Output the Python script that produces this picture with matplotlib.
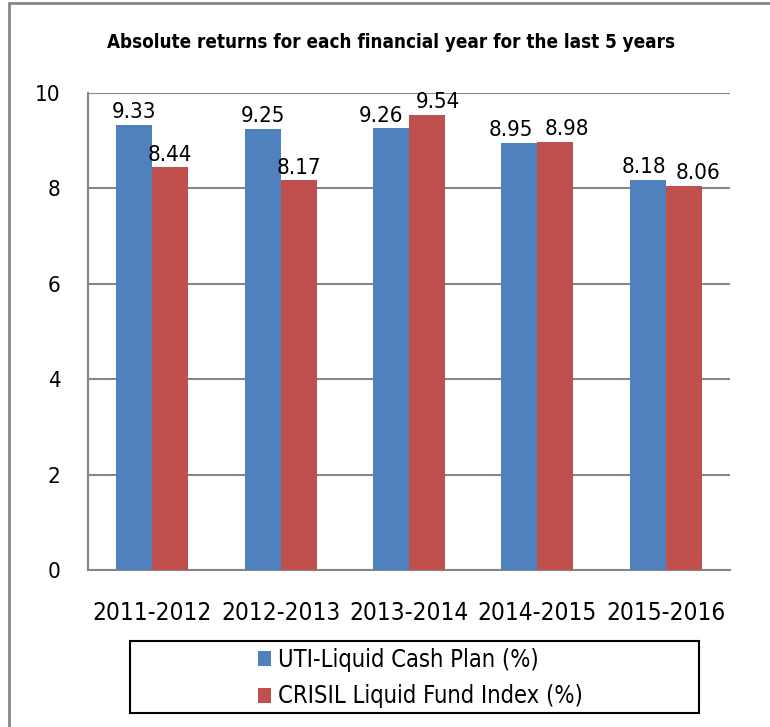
import matplotlib.pyplot as plt
import numpy as np
from matplotlib.patches import Rectangle

years = ['2011-2012', '2012-2013', '2013-2014', '2014-2015', '2015-2016']
uti = [9.33, 9.25, 9.26, 8.95, 8.18]
crisil = [8.44, 8.17, 9.54, 8.98, 8.06]
labels = ['UTI-Liquid Cash Plan (%)', 'CRISIL Liquid Fund Index (%)']

plt.rcParams['font.family'] = ['DejaVu Sans']
plt.rcParams['font.stretch'] = 'condensed'

W, H = 770, 727
fig = plt.figure(figsize=(W / 100, H / 100), dpi=100)
ax = fig.add_axes([88 / W, 1 - 570 / H, (730 - 88) / W, (570 - 93) / H])

x = np.arange(len(years))
bw = 0.28
b1 = ax.bar(x - bw / 2, uti, bw, color='#4F81BD', label=labels[0], zorder=3)
b2 = ax.bar(x + bw / 2, crisil, bw, color='#C0504D', label=labels[1], zorder=3)

# small sideways nudges (points) so neighbouring labels don't collide
nudge = [[0, 0, -7, -6, -3], [0, 0, 8, 8, 10]]
for k, (bars, vals) in enumerate(((b1, uti), (b2, crisil))):
    for i, (r, v) in enumerate(zip(bars, vals)):
        ax.annotate(f'{v:.2f}', (r.get_x() + r.get_width() / 2, v),
                    xytext=(nudge[k][i], 2), textcoords='offset points',
                    ha='center', va='bottom', fontsize=16, color='black')

ax.set_xlim(-0.5, len(years) - 0.5)
ax.set_ylim(0, 10)
ax.set_yticks(range(0, 11, 2))
ax.set_xticks(x)
ax.set_xticklabels(years, fontsize=17.5)
ax.tick_params(axis='y', length=0, pad=20, labelsize=16)
ax.tick_params(axis='x', length=0, pad=22)
ax.yaxis.grid(True, color='#868686', lw=1.5, zorder=0)
for s in ['top', 'right']:
    ax.spines[s].set_visible(False)
for s in ['left', 'bottom']:
    ax.spines[s].set_color('#868686')
    ax.spines[s].set_linewidth(1.5)

fig.text(391 / W, 1 - 42 / H, 'Absolute returns for each financial year for the last 5 years',
         ha='center', va='center', fontsize=13.5, fontweight='bold')

# legend with its own box
fig.legend(handles=[b1, b2], loc='center', bbox_to_anchor=(420 / W, 1 - 678 / H),
           frameon=False, fontsize=17, handlelength=0.55, handleheight=0.6,
           handletextpad=0.3, labelspacing=0.55)
fig.patches.append(Rectangle((130 / W, 1 - 713 / H), (699 - 130) / W, (713 - 641) / H,
                             transform=fig.transFigure, fill=False, ec='black', lw=1.5))

# outer chart border
fig.patches.append(Rectangle((9 / W, -0.05), 1.1, 1.05 - 3 / H,
                             transform=fig.transFigure, fill=False, ec='#888888', lw=2))

fig.savefig('out.png', dpi=100)
